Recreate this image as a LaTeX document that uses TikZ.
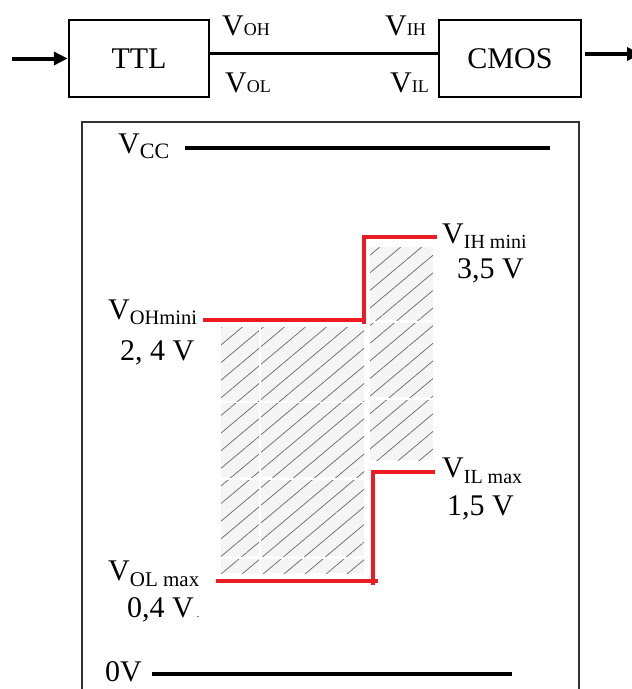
\documentclass[tikz,border=0pt]{standalone}
\usepackage{fontspec}
\setmainfont{Liberation Serif}
\usetikzlibrary{arrows.meta,patterns.meta}
\definecolor{redline}{RGB}{236,28,36}
\definecolor{hatchbg}{RGB}{245,245,245}
\definecolor{hatchline}{RGB}{110,110,110}
\newcommand{\bigf}{\fontsize{30}{34}\selectfont}
\newcommand{\Vlab}[3]{V\raisebox{-#3}{\fontsize{#2}{#2}\selectfont #1}}
\begin{document}
\begin{tikzpicture}[x=1pt,y=-1pt,font=\bigf,
  blockbox/.style={draw,line width=2.5pt,minimum height=77pt,inner sep=0pt},
  lab/.style={anchor=base west,inner sep=0pt},
  thickarrow/.style={line width=4pt,-{Triangle[length=14pt,width=13pt]}},
  redpath/.style={draw=redline,line width=4pt},
  levelline/.style={line width=4pt},
  frameline/.style={line width=1.2pt,draw=black!80},
  hatch/.style={fill=hatchbg,postaction={pattern={Lines[angle=40,distance=13.5pt,line width=0.75pt]},pattern color=hatchline}}
]
\useasboundingbox (0,0) rectangle (632,689);

% ---- top block diagram ----
\node[blockbox,minimum width=140pt] (ttl) at (139,58.5) {TTL};
\node[blockbox,minimum width=142pt] (cmos) at (510,58.5) {CMOS};
\coordinate (inL) at (12,58.5);
\coordinate (outR) at (641,54);
\draw[thickarrow] (inL) -- (ttl.west);
\draw[thickarrow] ([xshift=3pt,yshift=4.5pt]cmos.east) -- (outR);
\draw[line width=3pt] ([yshift=5.5pt]ttl.east) -- ([yshift=5.5pt]cmos.west);

\node[lab] (voh) at (222,35) {V{\fontsize{18}{18}\selectfont OH}};
\node[lab] (vol) at (225,92) {V{\fontsize{18}{18}\selectfont OL}};
\node[lab] (vih) at (385,35) {V{\fontsize{18}{18}\selectfont IH}};
\node[lab] (vil) at (390,92) {V{\fontsize{18}{18}\selectfont IL}};

% ---- lower chart ----
\draw[frameline] (82,700) -- (82,122) -- (579,122) -- (579,700);

% hatched zones
\foreach \xa/\xb in {221/259,261/364}{
  \foreach \ya/\yb in {327/401,403/477,480/556,559/573}{
    \path[hatch] (\xa,\ya) rectangle (\xb,\yb);
  }
}
\foreach \ya/\yb in {247/320,323/397,400/460}{
  \path[hatch] (370,\ya) rectangle (433,\yb);
}

% supply levels
\coordinate (vccA) at (185,148);
\coordinate (vccB) at (550,148);
\draw[levelline] (vccA) -- (vccB);
\node[lab] (vcc) at (118,153) {\Vlab{CC}{22}{5pt}};

\coordinate (gndA) at (152,674);
\coordinate (gndB) at (512,674);
\draw[levelline] (gndA) -- (gndB);
\node[lab] (gnd) at (105,681) {0V};

% red threshold steps (output TTL high / input CMOS high)
\coordinate (oh1) at (203,320);
\coordinate (oh2) at (364,320);
\coordinate (oh3) at (364,324);
\coordinate (ih1) at (364,237);
\coordinate (ih2) at (437,237);
\draw[redpath] (oh1) -- (oh2);
\draw[redpath,line join=miter] (oh3) -- (ih1) -- (ih2);

% red threshold steps (output TTL low / input CMOS low)
\coordinate (ol1) at (216,581);
\coordinate (ol2) at (378,581);
\coordinate (ol3) at (373,585);
\coordinate (il1) at (373,472);
\coordinate (il2) at (435,472);
\draw[redpath] (ol1) -- (ol2);
\draw[redpath,line join=miter] (ol3) -- (il1) -- (il2);

% labels
\node[lab] (vihmin) at (442,243) {\Vlab{IH mini}{20}{5pt}};
\node[lab] (vihval) at (457,278) {3,5 V};
\node[lab] (vohmin) at (108,319) {\Vlab{OHmini}{20.5}{5pt}};
\node[lab] (vohval) at (120,360) {2, 4 V};
\node[lab] (vilmax) at (442,477) {\Vlab{IL max}{20}{6pt}};
\node[lab] (vilval) at (447,515) {1,5 V};
\node[lab] (volmax) at (108,580) {\Vlab{OL max}{21}{6pt}};
\node[lab] (volval) at (127,617) {0,4 V\hspace{3pt}{\fontsize{10}{10}\selectfont .}};
\end{tikzpicture}
\end{document}
